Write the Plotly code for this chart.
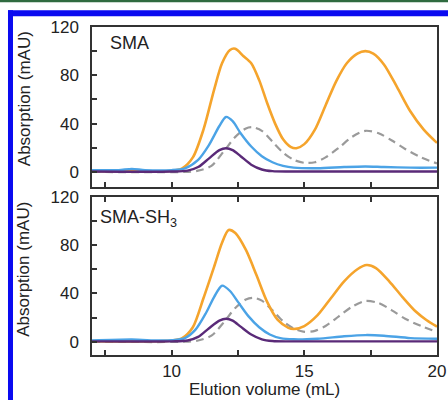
import plotly.graph_objects as go

# ---------------- data ----------------
# SMA (top panel)
sma_orange_x = [7.0, 8.0, 9.0, 10.0, 10.4, 10.8, 11.2, 11.6, 11.9, 12.2, 12.4, 12.7, 13.0, 13.3, 13.6, 13.9, 14.2, 14.5, 14.7, 15.0, 15.4, 15.8, 16.2, 16.6, 17.0, 17.3, 17.6, 18.0, 18.5, 19.0, 19.5, 20.0]
sma_orange_y = [0.5, 0.5, 0.5, 1.0, 3.0, 12, 35, 68, 90, 101, 102, 96, 90, 76, 57, 40, 27, 20.5, 19.6, 23, 35, 55, 75, 90, 98, 100, 98, 89, 70, 50, 35, 24]

sma_blue_x = [7.0, 8.0, 8.5, 9.0, 10.0, 10.5, 11.0, 11.4, 11.8, 12.05, 12.3, 12.6, 13.0, 13.4, 13.8, 14.2, 14.6, 15.5, 16.5, 17.3, 18.0, 19.0, 20.0]
sma_blue_y = [1.5, 1.5, 2.5, 1.5, 1.5, 3.0, 10, 22, 38, 45.5, 42, 32, 21, 13, 8, 5, 3.5, 3, 4, 4.5, 4, 3.5, 3.5]

sma_purple_x = [7.0, 10.0, 10.6, 11.0, 11.4, 11.8, 12.05, 12.3, 12.6, 13.0, 13.4, 13.8, 14.5, 20.0]
sma_purple_y = [0.3, 0.3, 1.0, 4, 11, 18, 19.6, 18, 13, 6, 2, 0.6, 0.3, 0.3]

sma_gray_x = [7.0, 10.5, 11.0, 11.5, 12.0, 12.4, 12.8, 13.05, 13.4, 13.8, 14.2, 14.6, 15.0, 15.4, 15.8, 16.3, 16.8, 17.3, 17.8, 18.3, 18.8, 19.4, 20.0]
sma_gray_y = [0, 0, 1, 5, 18, 29, 36, 37, 34, 25, 16, 10, 7.5, 8, 12, 20, 29, 34, 32, 26, 19, 12, 7]

# SMA-SH3 (bottom panel)
sh3_orange_x = [7.0, 10.0, 10.4, 10.8, 11.2, 11.6, 11.9, 12.15, 12.4, 12.8, 13.2, 13.6, 14.0, 14.4, 14.6, 15.0, 15.5, 16.0, 16.5, 17.0, 17.35, 17.7, 18.2, 18.7, 19.2, 19.6, 20.0]
sh3_orange_y = [0.5, 1.0, 3.0, 12, 36, 62, 82, 92.5, 90, 76, 55, 33, 18, 11.5, 10.5, 13, 22, 36, 50, 60, 63.5, 61, 50, 37, 25, 18, 12.5]

sh3_blue_x = [7.0, 8.5, 9.5, 10.0, 10.5, 10.9, 11.3, 11.6, 11.9, 12.2, 12.5, 12.9, 13.3, 13.7, 14.1, 14.6, 15.5, 16.5, 17.3, 18.0, 19.0, 20.0]
sh3_blue_y = [1.0, 1.8, 1.0, 1.2, 3.0, 10, 24, 37, 46.4, 42, 33, 21, 12, 6, 3, 2, 2.5, 4.5, 5.5, 5, 3, 2.5]

sh3_purple_x = [7.0, 10.0, 10.6, 11.0, 11.4, 11.8, 12.05, 12.3, 12.6, 13.0, 13.4, 13.8, 14.5, 20.0]
sh3_purple_y = [0.3, 0.3, 1.0, 4, 11, 17.5, 19, 17.5, 12.5, 6, 2, 0.6, 0.3, 0.3]

sh3_gray_x = [7.0, 10.5, 11.0, 11.5, 12.0, 12.4, 12.8, 13.08, 13.4, 13.8, 14.2, 14.6, 14.96, 15.4, 15.8, 16.3, 16.8, 17.3, 17.8, 18.3, 18.8, 19.4, 20.0]
sh3_gray_y = [0, 0, 1, 5, 17, 28, 35, 36.4, 34, 26, 17, 11, 8.3, 9, 13, 21, 29, 33.7, 32, 26, 19, 13, 8]

x_tickvals = [7.5, 10, 12.5, 15, 17.5, 20]
x_ticktext = ["", "10", "", "15", "", "20"]
y_tickvals = [0, 20, 40, 60, 80, 100, 120]
y_ticktext = ["0", "", "40", "", "80", "", "120"]

ORANGE = "#f5a42c"
BLUE = "#4ba3e6"
PURPLE = "#5a2a78"
GRAY = "#9a9a9a"
AXC = "#333333"
TXT = "#222222"
FONT = "Liberation Sans, Arial, sans-serif"

fig = go.Figure()

def add(x, y, color, xa, ya, dash="solid", width=2.2):
    fig.add_trace(go.Scatter(x=x, y=y, mode="lines", xaxis=xa, yaxis=ya,
                             line=dict(color=color, width=width, dash=dash, shape="spline", smoothing=0.8),
                             showlegend=False, hoverinfo="skip"))

# top panel (x, y)
add(sma_gray_x, sma_gray_y, GRAY, "x", "y", dash="8px,5px", width=2.2)
add(sma_orange_x, sma_orange_y, ORANGE, "x", "y", width=2.6)
add(sma_blue_x, sma_blue_y, BLUE, "x", "y", width=2.4)
add(sma_purple_x, sma_purple_y, PURPLE, "x", "y", width=2.4)
# bottom panel (x2, y2)
add(sh3_gray_x, sh3_gray_y, GRAY, "x2", "y2", dash="8px,5px", width=2.2)
add(sh3_orange_x, sh3_orange_y, ORANGE, "x2", "y2", width=2.6)
add(sh3_blue_x, sh3_blue_y, BLUE, "x2", "y2", width=2.4)
add(sh3_purple_x, sh3_purple_y, PURPLE, "x2", "y2", width=2.4)

xcommon = dict(range=[7, 20], tickvals=x_tickvals, ticktext=x_ticktext, ticks="inside", ticklen=5,
               tickwidth=1.5, tickcolor=AXC, showline=True, linecolor=AXC, linewidth=1.5,
               showgrid=False, zeroline=False, automargin=False,
               tickfont=dict(size=17, color=TXT, family=FONT))
ycommon = dict(tickvals=y_tickvals, ticktext=y_ticktext, ticks="inside", ticklen=5, tickwidth=1.5,
               tickcolor=AXC, showline=True, linecolor=AXC, linewidth=1.5, mirror=True,
               showgrid=False, zeroline=False, ticklabelstandoff=8, automargin=False,
               tickfont=dict(size=17, color=TXT, family=FONT))

def ytitle(y):
    return dict(text="Absorption (mAU)", xref="paper", yref="paper", x=-0.197, y=y, textangle=-90,
                xanchor="center", yanchor="middle", showarrow=False,
                font=dict(size=17, color=TXT, family=FONT))

fig.update_layout(
    width=448, height=400,
    margin=dict(l=92, r=11, t=27, b=45, autoexpand=False),
    paper_bgcolor="white", plot_bgcolor="white",
    font=dict(family=FONT, color=TXT),
    xaxis=dict(xcommon, domain=[0, 1], anchor="y", mirror=True, showticklabels=False),
    yaxis=dict(ycommon, domain=[0.5126, 1], range=[-12.4, 120], anchor="x"),
    xaxis2=dict(xcommon, domain=[0, 1], anchor="y2", mirror="ticks", ticklabelstandoff=0),
    yaxis2=dict(ycommon, domain=[0, 0.4822], range=[-11, 120], anchor="x2"),
    annotations=[
        dict(text="SMA", xref="x domain", yref="y domain", x=0.046, y=0.898, xanchor="left", yanchor="middle",
             showarrow=False, font=dict(size=18, color=TXT, family=FONT)),
        dict(text="SMA-SH<sub>3</sub>", xref="x2 domain", yref="y2 domain", x=0.017, y=0.865, xanchor="left",
             yanchor="middle", showarrow=False, font=dict(size=18, color=TXT, family=FONT)),
        ytitle(0.78),
        ytitle(0.26),
        dict(text="Elution volume (mL)", xref="paper", yref="paper", x=0.5, y=-0.104, xanchor="center",
             yanchor="middle", showarrow=False, font=dict(size=17, color=TXT, family=FONT)),
    ],
    shapes=[
        dict(type="rect", xref="paper", yref="paper", x0=-0.27, x1=1.04, y0=1.0752, y1=1.09,
             fillcolor="#2f6b40", line=dict(width=0), layer="above"),
        dict(type="rect", xref="paper", yref="paper", x0=-0.2435, x1=1.04, y0=1.0326, y1=1.0509,
             fillcolor="#0a0af0", line=dict(width=0), layer="above"),
        dict(type="rect", xref="paper", yref="paper", x0=-0.2435, x1=-0.229, y0=-0.2, y1=1.0509,
             fillcolor="#0a0af0", line=dict(width=0), layer="above"),
    ],
)

fig.write_html("out.html", config={"displayModeBar": False},
               post_script="document.body.style.margin='0';document.body.style.overflow='hidden';")
